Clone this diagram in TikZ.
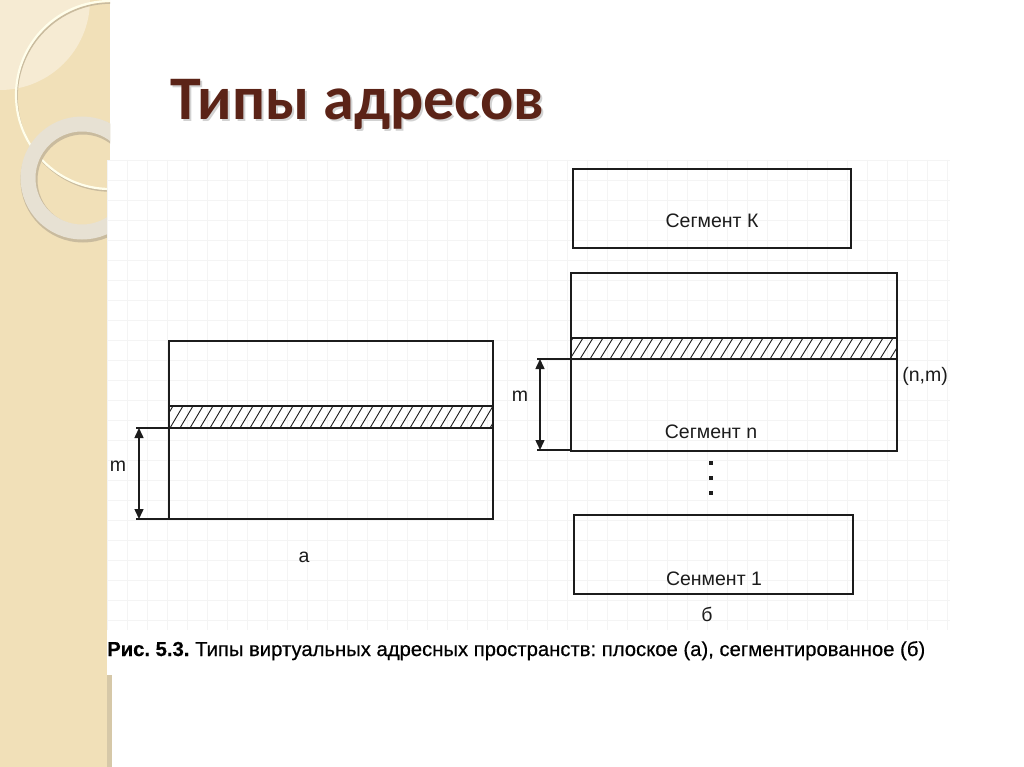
\documentclass[tikz,border=0pt]{standalone}
\usepackage{fontspec}
\setmainfont{Liberation Sans}
\newfontfamily\titlefont{Carlito}
\newfontfamily\capfont[FakeBold=0.5]{Liberation Sans}
\usetikzlibrary{arrows.meta}
\definecolor{bandcol}{HTML}{F1E0B8}
\definecolor{bandlight}{HTML}{F6EBD3}
\definecolor{ringcol}{HTML}{E7E1D3}
\definecolor{ringshadow}{HTML}{C9BB9E}
\definecolor{titlecol}{HTML}{5B2317}
\definecolor{edgecol}{HTML}{D6C8A8}
\definecolor{inkcol}{HTML}{1C1C1C}
\definecolor{gridcol}{HTML}{F4F4F4}
\tikzset{
  box/.style={draw=inkcol, line width=1.6pt},
  lbl/.style={font=\fontsize{19.5}{19.5}\selectfont, text=inkcol, anchor=base, inner sep=0pt},
  hatchline/.style={draw=inkcol, line width=0.9pt},
  dim/.style={draw=inkcol, line width=1.5pt, {Triangle[width=9pt,length=10pt]}-{Triangle[width=9pt,length=10pt]}},
  ext/.style={draw=inkcol, line width=1.5pt},
  dotm/.style={rectangle, fill=inkcol, inner sep=0pt, minimum size=4.5pt}
}
\begin{document}
\begin{tikzpicture}[x=1pt,y=-1pt]
\useasboundingbox (0,0) rectangle (1024,767);
\fill[white] (0,0) rectangle (1024,767);
% left decorative band
\fill[bandcol] (0,0) rectangle (110,767);
\begin{scope}
  \clip (0,0) rectangle (110,767);
  \fill[bandlight] (0,0) circle (90);
  \draw[ringshadow, line width=1.6pt] (111,97) circle (94);
  \draw[white!92!yellow, line width=2.2pt] (110,95) circle (94);
  \draw[ringshadow, line width=17pt] (83,180) circle (54);
  \draw[ringcol, line width=15pt] (82,178) circle (54);
\end{scope}
\fill[edgecol] (107,675) rectangle (112,767);
% figure area
\fill[white] (107,160) rectangle (950,675);
\begin{scope}
  \clip (107,160) rectangle (950,630);
  \foreach \x in {107,127,...,950} \draw[gridcol, line width=0.6pt] (\x,160) -- (\x,630);
  \foreach \y in {160,180,...,630} \draw[gridcol, line width=0.6pt] (107,\y) -- (950,\y);
\end{scope}
% title
\node[anchor=base west, inner sep=0pt, text=black!35, opacity=0.5,
      font=\titlefont\bfseries\fontsize{62}{62}\selectfont] at (172,122) {Типы адресов};
\node (title) [anchor=base west, inner sep=0pt, text=titlecol,
      font=\titlefont\bfseries\fontsize{62}{62}\selectfont] at (170,120) {Типы адресов};

% ---------- diagram a ----------
\coordinate (aTL) at (169,341);
\coordinate (aBR) at (493,519);
\begin{scope}
  \clip (169,406) rectangle (493,428);
  \foreach \x in {150,160,...,500} \draw[hatchline] (\x,428) -- (\x+13,406);
\end{scope}
\draw[box] (aTL) rectangle (aBR);
\draw[box] (169,406) -- (493,406);
\coordinate (aMt) at (136,428);
\coordinate (aMb) at (136,519);
\draw[ext] (aMt) -- (493,428);
\draw[ext] (aMb) -- (169,519);
\coordinate (aAt) at (139,428);
\coordinate (aAb) at (139,519);
\draw[dim] (aAt) -- (aAb);
\node (am) [lbl] at (118,471) {m};
\node (alab) [lbl] at (304,562) {а};

% ---------- diagram b ----------
\node (segK) [box, minimum width=278pt, minimum height=79pt, anchor=north west, inner sep=0pt] at (572,168) {};
\node (segKt) [lbl] at (712,228) {Сегмент К};
\begin{scope}
  \clip (570,338) rectangle (896,359);
  \foreach \x in {550,560,...,900} \draw[hatchline] (\x,359) -- (\x+13,338);
\end{scope}
\node (segN) [box, minimum width=326pt, minimum height=178pt, anchor=north west, inner sep=0pt] at (570,272) {};
\draw[box] (570,338) -- (896,338);
\coordinate (bMt) at (537,359);
\coordinate (bMb) at (537,450);
\draw[ext] (bMt) -- (896,359);
\draw[ext] (bMb) -- (570,450);
\coordinate (bAt) at (540,359);
\coordinate (bAb) at (540,450);
\draw[dim] (bAt) -- (bAb);
\node (bm) [lbl] at (520,401) {m};
\node (nm) [lbl] at (925,381) {(n,m)};
\node (segNt) [lbl] at (711,438) {Сегмент n};
\node (d1) [dotm] at (711,463) {};
\node (d2) [dotm] at (711,478) {};
\node (d3) [dotm] at (711,493) {};
\node (seg1) [box, minimum width=279pt, minimum height=79pt, anchor=north west, inner sep=0pt] at (573,514) {};
\node (seg1t) [lbl] at (714,585) {Сенмент 1};
\node (blab) [lbl] at (707,621) {б};

% caption
\node (cap) [anchor=base west, inner sep=0pt, text=black] at (107,656)
  {\resizebox{818pt}{!}{\frenchspacing\capfont\fontsize{16}{16}\selectfont\textbf{Рис.~5.3.} Типы виртуальных адресных пространств: плоское (а), сегментированное (б)}};
\end{tikzpicture}
\end{document}
